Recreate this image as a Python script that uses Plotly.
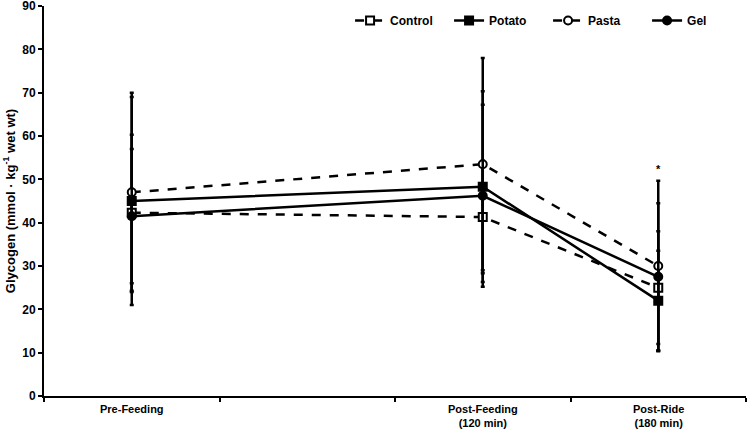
import plotly.graph_objects as go

categories = ["Pre-Feeding", "Post-Feeding<br>(120 min)", "Post-Ride<br>(180 min)"]
cat_pos = [0.5, 2.5, 3.5]

control = [42.3, 41.3, 25.0]
control_err = [18.0, 13.0, 13.0]
potato = [45.0, 48.3, 22.0]
potato_err = [24.0, 22.0, 11.5]
pasta = [47.0, 53.5, 30.0]
pasta_err = [23.0, 24.5, 19.7]
gel = [41.5, 46.2, 27.5]
gel_err = [15.5, 21.0, 17.0]

y_ticks = [0, 10, 20, 30, 40, 50, 60, 70, 80, 90]

FONT = "Liberation Sans, Arial, sans-serif"

series = [
    ("Control", control, control_err, "dash", "square", "white"),
    ("Potato", potato, potato_err, "solid", "square", "black"),
    ("Pasta", pasta, pasta_err, "dash", "circle", "white"),
    ("Gel", gel, gel_err, "solid", "circle", "black"),
]

fig = go.Figure()
for name, vals, errs, dash, sym, fill in series:
    fig.add_trace(go.Scatter(
        x=cat_pos, y=vals, name=name, mode="lines+markers",
        line=dict(color="black", width=2.5, dash=dash),
        marker=dict(symbol=sym, size=8, color=fill,
                    line=dict(color="black", width=2)),
        error_y=dict(type="data", array=errs, visible=True, color="black",
                     thickness=2.5, width=2),
    ))

annotations = []
for pos, lab in zip(cat_pos, categories):
    annotations.append(dict(x=pos, y=0, xref="x", yref="paper", yshift=-5,
                            text="<b>" + lab + "</b>", showarrow=False,
                            yanchor="top", xanchor="center",
                            font=dict(family=FONT, size=11, color="black")))
annotations.append(dict(x=cat_pos[2], y=52.5, xref="x", yref="y",
                        text="<b>*</b>", showarrow=False,
                        font=dict(family=FONT, size=11, color="black")))

fig.update_layout(
    width=750, height=431,
    margin=dict(l=44, r=4, t=6, b=35, autoexpand=False),
    paper_bgcolor="white", plot_bgcolor="white",
    font=dict(family=FONT, size=11, color="black"),
    showlegend=True,
    legend=dict(orientation="h", x=0.436, xanchor="left", y=1.0, yanchor="top",
                font=dict(family=FONT, size=12, color="black", weight="bold"),
                itemwidth=30, entrywidth=54, entrywidthmode="pixels",
                tracegroupgap=0, bgcolor="rgba(0,0,0,0)"),
    xaxis=dict(range=[0, 4], showgrid=False, zeroline=False,
               showline=True, linecolor="black", linewidth=2,
               tickvals=[0, 1, 2, 3, 4], ticktext=["", "", "", "", ""],
               ticks="outside", ticklen=4, tickwidth=2, tickcolor="black"),
    yaxis=dict(range=[0, 90], showgrid=False, zeroline=False,
               showline=True, linecolor="black", linewidth=2,
               tickvals=y_ticks, ticktext=["<b>%d</b>" % v for v in y_ticks],
               ticks="outside", ticklen=4, tickwidth=2, tickcolor="black",
               tickfont=dict(family=FONT, size=12, color="black"),
               ticklabeloverflow="allow",
               title=dict(text="<b>Glycogen (mmol · kg<sup>-1</sup> wet wt)</b>",
                          font=dict(family=FONT, size=13, color="black"), standoff=4)),
    annotations=annotations,
)

fig.write_html("out.html")
